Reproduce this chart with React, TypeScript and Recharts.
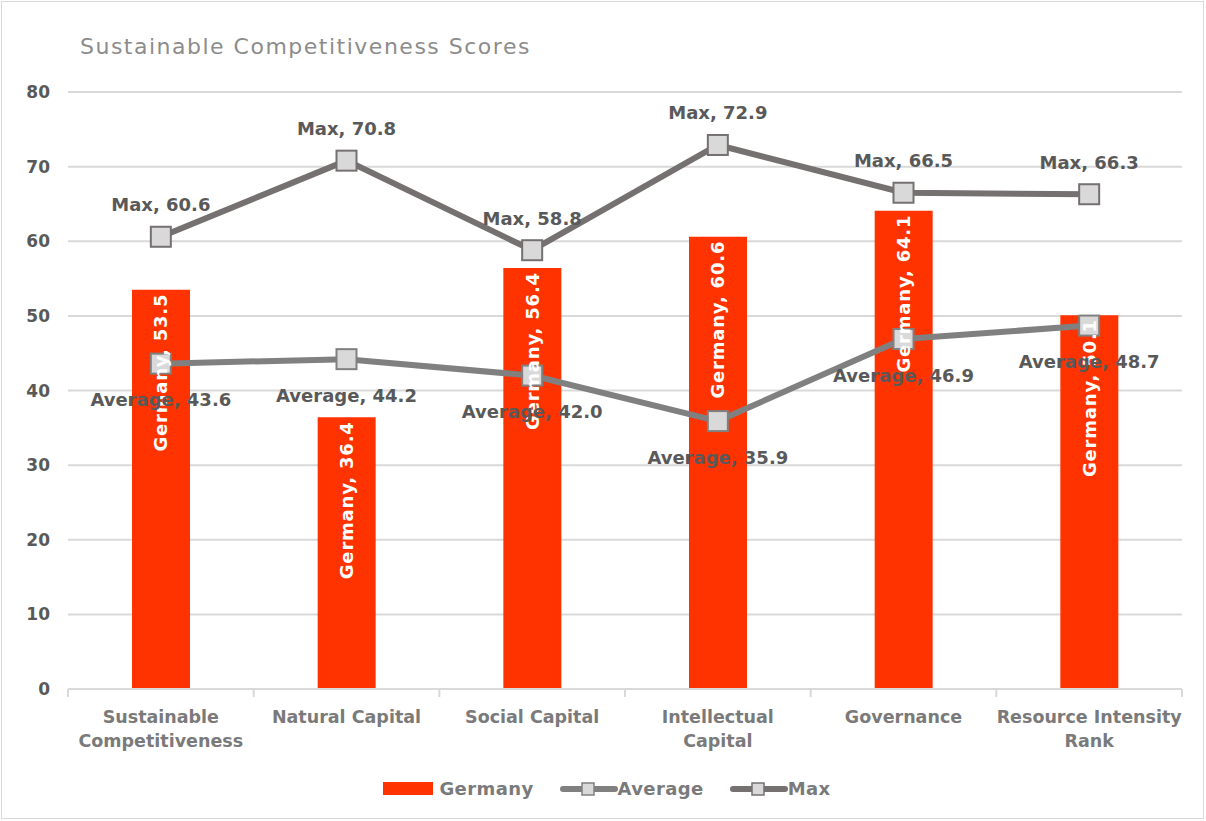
import { Bar, CartesianGrid, ComposedChart, LabelList, Line, XAxis, YAxis } from 'recharts';

const categories = [
  'Sustainable\nCompetitiveness',
  'Natural Capital',
  'Social Capital',
  'Intellectual\nCapital',
  'Governance',
  'Resource Intensity\nRank',
];
const germanyScores = [53.5, 36.4, 56.4, 60.6, 64.1, 50.1];
const averageScores = [43.6, 44.2, 42.0, 35.9, 46.9, 48.7];
const maxScores = [60.6, 70.8, 58.8, 72.9, 66.5, 66.3];
const yTicks = [0, 10, 20, 30, 40, 50, 60, 70, 80];
const seriesNames = ['Germany', 'Average', 'Max'];

const data = categories.map((category, i) => ({
  category,
  Germany: germanyScores[i],
  Average: averageScores[i],
  Max: maxScores[i],
}));

const FONT = "'Century Gothic', 'DejaVu Sans', sans-serif";
const WIDTH = 1206;
const HEIGHT = 821;
const MARGIN = { top: 92, right: 24, bottom: 72, left: 8 };
const Y_AXIS_WIDTH = 60;
const BAND = (WIDTH - MARGIN.left - MARGIN.right - Y_AXIS_WIDTH) / categories.length;

const BAR_COLOR = '#ff3300';
const AVG_COLOR = '#808080';
const MAX_COLOR = '#767171';
const MARKER_FILL = '#d9d9d9';
const TEXT_DARK = '#595959';
const AXIS_TEXT = '#7a7a7a';
const GRID = '#d9d9d9';

function CategoryTick(props: any) {
  const { x, y, payload, index } = props;
  const lines = String(payload.value).split('\n');
  return (
    <g>
      <line x1={x - BAND / 2} x2={x - BAND / 2} y1={y} y2={y + 8} stroke={GRID} strokeWidth={2} />
      {index === categories.length - 1 && (
        <line x1={x + BAND / 2} x2={x + BAND / 2} y1={y} y2={y + 8} stroke={GRID} strokeWidth={2} />
      )}
      {lines.map((line, i) => (
        <text
          key={i}
          x={x}
          y={y + 34 + i * 24}
          textAnchor="middle"
          fill={AXIS_TEXT}
          fontFamily={FONT}
          fontWeight="bold"
          fontSize={17.5}
        >
          {line}
        </text>
      ))}
    </g>
  );
}

function SquareDot(stroke: string) {
  return (props: any) => {
    const { cx, cy, index } = props;
    if (cx == null || cy == null) return <g key={index} />;
    return (
      <rect
        key={index}
        x={cx - 10}
        y={cy - 10}
        width={20}
        height={20}
        fill={MARKER_FILL}
        stroke={stroke}
        strokeWidth={2}
      />
    );
  };
}

function lineLabel(name: string, dy: number) {
  return (props: any) => {
    const { x, y, value } = props;
    return (
      <text
        x={x}
        y={y + dy}
        textAnchor="middle"
        dominantBaseline="central"
        fill={TEXT_DARK}
        fontFamily={FONT}
        fontWeight="bold"
        fontSize={18}
      >
        {`${name}, ${Number(value).toFixed(1)}`}
      </text>
    );
  };
}

function barLabel(props: any) {
  const { x, y, width, value } = props;
  const cx = x + width / 2;
  const ty = y + 4;
  return (
    <text
      x={cx}
      y={ty}
      transform={`rotate(-90, ${cx}, ${ty})`}
      textAnchor="end"
      dominantBaseline="central"
      fill="#ffffff"
      fontFamily={FONT}
      fontWeight="bold"
      fontSize={18}
      letterSpacing={0.8}
    >
      {`Germany, ${Number(value).toFixed(1)}`}
    </text>
  );
}

function LegendLine({ color }: { color: string }) {
  return (
    <svg width={58} height={20}>
      <line x1={3} x2={55} y1={10} y2={10} stroke={color} strokeWidth={6} strokeLinecap="round" />
      <rect x={22} y={4} width={12} height={12} fill={MARKER_FILL} stroke={color} strokeWidth={1.5} />
    </svg>
  );
}

function ChartLegend() {
  const itemStyle = { display: 'flex', alignItems: 'center', marginRight: 26 } as const;
  const textStyle = {
    color: AXIS_TEXT,
    fontFamily: FONT,
    fontWeight: 'bold',
    fontSize: 18,
    letterSpacing: 0.4,
  } as const;
  return (
    <div
      style={{
        position: 'absolute',
        top: 778,
        left: 4,
        width: WIDTH,
        display: 'flex',
        justifyContent: 'center',
        alignItems: 'center',
      }}
    >
      <div style={itemStyle}>
        <div style={{ width: 50, height: 13, background: BAR_COLOR, marginRight: 6 }} />
        <span style={textStyle}>{seriesNames[0]}</span>
      </div>
      <div style={itemStyle}>
        <LegendLine color={AVG_COLOR} />
        <span style={textStyle}>{seriesNames[1]}</span>
      </div>
      <div style={{ ...itemStyle, marginRight: 0 }}>
        <LegendLine color={MAX_COLOR} />
        <span style={textStyle}>{seriesNames[2]}</span>
      </div>
    </div>
  );
}

export default function App() {
  return (
    <div
      style={{
        position: 'absolute',
        left: 0,
        top: 0,
        width: WIDTH,
        height: HEIGHT,
        background: '#ffffff',
      }}
    >
      <div
        style={{
          position: 'absolute',
          left: 1,
          top: 1,
          width: WIDTH - 5,
          height: HEIGHT - 5,
          border: '1px solid #d9d9d9',
          pointerEvents: 'none',
        }}
      />
      <div
        style={{
          position: 'absolute',
          left: 80,
          top: 34,
          color: '#8c8c8c',
          fontFamily: FONT,
          fontSize: 22,
          letterSpacing: 1.5,
        }}
      >
        Sustainable Competitiveness Scores
      </div>
      <ComposedChart width={WIDTH} height={HEIGHT} data={data} margin={MARGIN}>
        <CartesianGrid vertical={false} stroke={GRID} strokeWidth={2} />
        <XAxis
          dataKey="category"
          interval={0}
          height={60}
          tickSize={0}
          tickMargin={0}
          tickLine={false}
          axisLine={{ stroke: GRID, strokeWidth: 2 }}
          tick={<CategoryTick />}
        />
        <YAxis
          width={Y_AXIS_WIDTH}
          domain={[0, 80]}
          ticks={yTicks}
          tickLine={false}
          axisLine={false}
          tickMargin={12}
          tick={{ fill: TEXT_DARK, fontFamily: FONT, fontWeight: 'bold', fontSize: 17 }}
        />
        <Bar dataKey="Germany" fill={BAR_COLOR} barSize={58} isAnimationActive={false}>
          <LabelList dataKey="Germany" content={barLabel} />
        </Bar>
        <Line
          dataKey="Average"
          stroke={AVG_COLOR}
          strokeWidth={6}
          dot={SquareDot(AVG_COLOR)}
          activeDot={false}
          isAnimationActive={false}
        >
          <LabelList dataKey="Average" content={lineLabel('Average', 36)} />
        </Line>
        <Line
          dataKey="Max"
          stroke={MAX_COLOR}
          strokeWidth={6}
          dot={SquareDot(MAX_COLOR)}
          activeDot={false}
          isAnimationActive={false}
        >
          <LabelList dataKey="Max" content={lineLabel('Max', -32)} />
        </Line>
      </ComposedChart>
      <ChartLegend />
    </div>
  );
}
